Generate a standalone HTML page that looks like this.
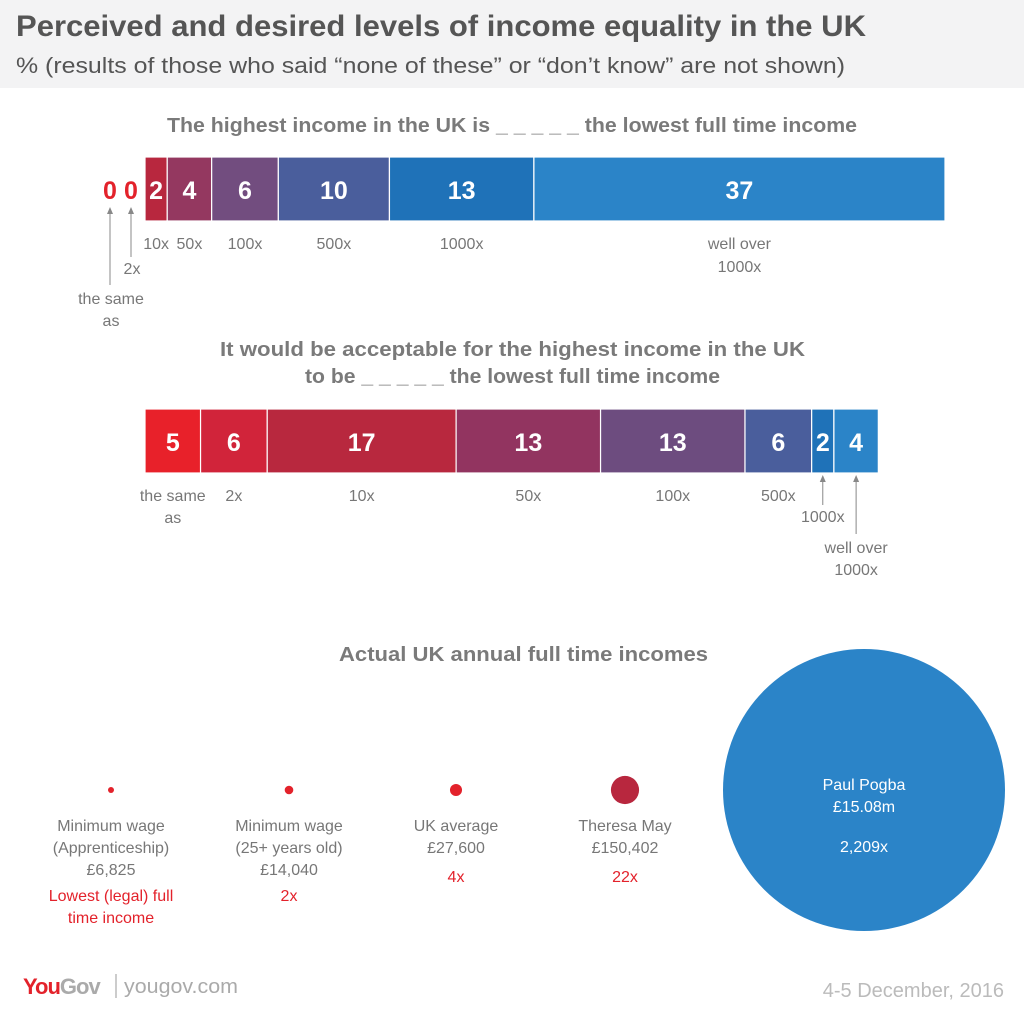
<!DOCTYPE html>
<html><head><meta charset="utf-8"><style>
body{margin:0;background:#fff;font-family:"Liberation Sans",sans-serif;}
svg text{font-family:"Liberation Sans",sans-serif;}
</style></head><body>
<svg id="c" width="1024" height="1015" viewBox="0 0 1024 1015" xmlns="http://www.w3.org/2000/svg">
<rect x="0" y="0" width="1024" height="88" fill="#f3f3f4"/>
<text x="16" y="36" font-size="30" font-weight="bold" fill="#555" textLength="850" lengthAdjust="spacingAndGlyphs">Perceived and desired levels of income equality in the UK</text>
<text x="16" y="73" font-size="22" fill="#555" textLength="829" lengthAdjust="spacingAndGlyphs">% (results of those who said “none of these” or “don’t know” are not shown)</text>
<text x="167" y="132" font-size="20" font-weight="bold" fill="#7a7a7a" textLength="690" lengthAdjust="spacingAndGlyphs">The highest income in the UK is _ _ _ _ _ the lowest full time income</text>
<text x="220" y="356" font-size="20" font-weight="bold" fill="#7a7a7a" textLength="585" lengthAdjust="spacingAndGlyphs">It would be acceptable for the highest income in the UK</text>
<text x="305" y="383" font-size="20" font-weight="bold" fill="#7a7a7a" textLength="415" lengthAdjust="spacingAndGlyphs">to be _ _ _ _ _ the lowest full time income</text>
<text x="339" y="661" font-size="20" font-weight="bold" fill="#7a7a7a" textLength="369" lengthAdjust="spacingAndGlyphs">Actual UK annual full time incomes</text>
<g id="g1"></g><g id="g2"></g><g id="g3"></g>
<text x="23" y="994" font-size="22" font-weight="bold" letter-spacing="-1"><tspan fill="#e3222b">You</tspan><tspan fill="#aaa">Gov</tspan></text>
<line x1="116" y1="974" x2="116" y2="998" stroke="#bbb" stroke-width="1.5"/>
<text x="124" y="993" font-size="20" fill="#aaa" textLength="114" lengthAdjust="spacingAndGlyphs">yougov.com</text>
<text x="1004" y="997" font-size="20" fill="#bbb" text-anchor="end">4-5 December, 2016</text>
</svg>
<script>
const NS="http://www.w3.org/2000/svg";
const cats1=["the same as","2x","10x","50x","100x","500x","1000x","well over 1000x"];
const vals1=[0,0,2,4,6,10,13,37];
const vals2=[5,6,17,13,13,6,2,4];
const cols1=["#e3222b","#e3222b","#b8273e","#943860","#724d7f","#4a5e9c","#1f72b8","#2b84c8"];
const cols2=["#e8212a","#d1243a","#b8283e","#923460","#6d4c7f","#4a5e9c","#1f72b8","#2b84c8"];
const incomeLabels=["Minimum wage|(Apprenticeship)|£6,825","Minimum wage|(25+ years old)|£14,040","UK average|£27,600","Theresa May|£150,402"];
const incomes=[6825,14040,27600,150402,15080000];
const multLabels=["Lowest (legal) full|time income","2x","4x","22x","2,209x"];
const X0=145, UNIT=800/72;
const xs=v=>v*UNIT;
function el(p,t,a,txt){const e=document.createElementNS(NS,t);for(const k in a)e.setAttribute(k,a[k]);if(txt!=null)e.textContent=txt;p.appendChild(e);return e;}
function bar(g,vals,cols,y,name){
  let x=X0;const pos=[];
  vals.forEach((v,i)=>{
    const w=xs(v);
    if(v>0){
      const r=el(g,"rect",{x:x,y:y,width:w,height:64,fill:cols[i],stroke:"#fff","stroke-width":1.2});
      
      
      const t=el(g,"text",{x:x+w/2,y:y+42,"font-size":25,"font-weight":"bold",fill:"#fff","text-anchor":"middle"},v);
      
      
    }
    pos.push(x+w/2);x+=w;
  });
  return pos;
}
const g1=document.getElementById("g1");
const p1=bar(g1,vals1,cols1,157,"perceived");
[110,131].forEach((px,i)=>{
  const t=el(g1,"text",{x:px,y:199,"font-size":25,"font-weight":"bold",fill:"#e3222b","text-anchor":"middle"},vals1[i]);
  
  
});
el(g1,"line",{x1:110,y1:285,x2:110,y2:210,stroke:"#888"});
el(g1,"line",{x1:131,y1:257,x2:131,y2:210,stroke:"#888"});
el(g1,"path",{d:"M107,214 L110,207 L113,214 Z M128,214 L131,207 L134,214 Z",fill:"#888"});
const lab=(g,x,y,s,n)=>{const t=el(g,"text",{x:x,y:y,"font-size":16,fill:"#777","text-anchor":"middle"},s);};
lab(g1,111,304,"the same","perceived-label-0a");lab(g1,111,326,"as","perceived-label-0b");
lab(g1,132,274,"2x","perceived-label-1");
for(let i=2;i<7;i++)lab(g1,p1[i],249,cats1[i],"perceived-label-"+i);
lab(g1,p1[7],249,"well over","perceived-label-7a");lab(g1,p1[7],272,"1000x","perceived-label-7b");
const g2=document.getElementById("g2");
const p2=bar(g2,vals2,cols2,409,"acceptable");
lab(g2,p2[0],501,"the same","acceptable-label-0a");lab(g2,p2[0],523,"as","acceptable-label-0b");
for(let i=1;i<6;i++)lab(g2,p2[i],501,cats1[i],"acceptable-label-"+i);
lab(g2,p2[6],522,"1000x","acceptable-label-6");
lab(g2,p2[7],553,"well over","acceptable-label-7a");lab(g2,p2[7],575,"1000x","acceptable-label-7b");
el(g2,"line",{x1:p2[6],y1:505,x2:p2[6],y2:478,stroke:"#888"});
el(g2,"line",{x1:p2[7],y1:534,x2:p2[7],y2:478,stroke:"#888"});
el(g2,"path",{d:`M${p2[6]-3},482 L${p2[6]},475 L${p2[6]+3},482 Z M${p2[7]-3},482 L${p2[7]},475 L${p2[7]+3},482 Z`,fill:"#888"});
const g3=document.getElementById("g3");
const cx=[111,289,456,625,864];const rMax=141;
const rs=v=>rMax*Math.sqrt(v/incomes[4]);
incomes.forEach((v,i)=>{
  const c=el(g3,"circle",{cx:cx[i],cy:790,r:rs(v),fill:i==4?"#2b84c8":(i==3?"#b8273e":"#e3222b")});
  
  
  if(i<4){
    const lines=incomeLabels[i].split("|");
    lines.forEach((s,j)=>lab(g3,cx[i],831+j*22,s,"income-label-"+i+"-"+j));
    const base=lines.length==3?901:882;
    const m=multLabels[i].split("|");
    m.forEach((s,j)=>{const t=el(g3,"text",{x:cx[i],y:base+j*22,"font-size":16,fill:"#e3222b","text-anchor":"middle"},s);
      });
  }
});
[["Paul Pogba",790],["£15.08m",812]].forEach(([s,y],j)=>{const t=el(g3,"text",{x:864,y:y,"font-size":16,fill:"#fff","text-anchor":"middle"},s);});
const pm=el(g3,"text",{x:864,y:852,"font-size":16,fill:"#fff","text-anchor":"middle"},multLabels[4]);


</script>
</body></html>
